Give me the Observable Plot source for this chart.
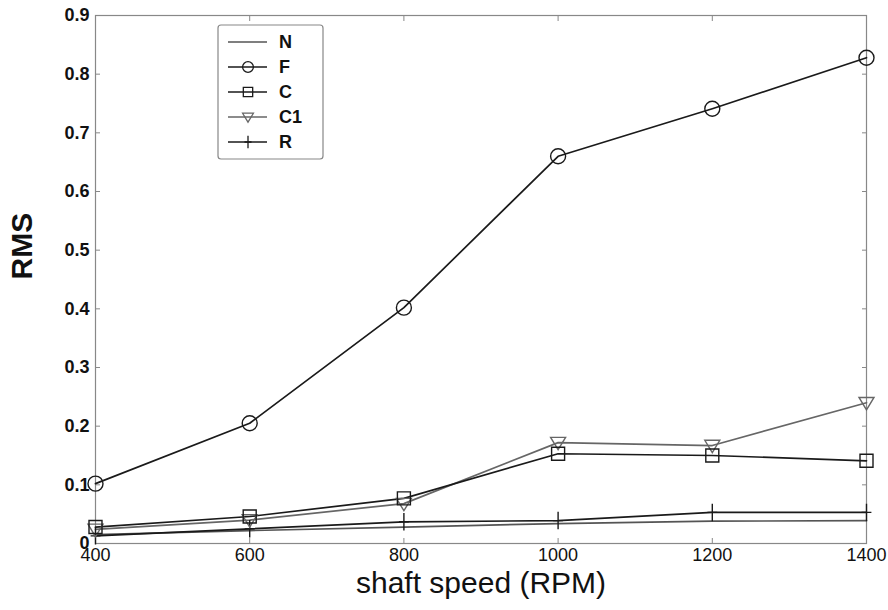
<!DOCTYPE html>
<html><head><meta charset="utf-8">
<script src="https://cdn.jsdelivr.net/npm/d3@7"></script>
<script src="https://cdn.jsdelivr.net/npm/@observablehq/plot@0.6"></script>
<style>
body{margin:0;background:#fff;font-family:"Liberation Sans",Arial,sans-serif;}
#wrap{position:relative;width:888px;height:610px;}
#legend{position:absolute;left:0;top:0;pointer-events:none;}
</style></head><body><div id="wrap"></div>
<script>
// ---- data ----
const speeds = [400, 600, 800, 1000, 1200, 1400];
const seriesNames = ["N", "F", "C", "C1", "R"];
const N  = [0.015, 0.022, 0.028, 0.034, 0.038, 0.039];
const F  = [0.102, 0.205, 0.402, 0.660, 0.741, 0.828];
const C  = [0.028, 0.046, 0.077, 0.153, 0.150, 0.141];
const C1 = [0.024, 0.040, 0.068, 0.172, 0.167, 0.240];
const R  = [0.013, 0.025, 0.037, 0.039, 0.053, 0.053];
const xTicks = [400, 600, 800, 1000, 1200, 1400];
const yTicks = [0, 0.1, 0.2, 0.3, 0.4, 0.5, 0.6, 0.7, 0.8, 0.9];
const yTickLabels = ["0", "0.1", "0.2", "0.3", "0.4", "0.5", "0.6", "0.7", "0.8", "0.9"];
const xLabel = "shaft speed (RPM)";
const yLabel = "RMS";

const values = {N, F, C, C1, R};
const rows = seriesNames.flatMap(s => speeds.map((x, j) => ({series: s, speed: x, rms: values[s][j]})));

// ---- symbols ----
const symCircle = {draw(c, size){ const r = Math.sqrt(size/Math.PI); c.moveTo(r,0); c.arc(0,0,r,0,2*Math.PI); }};
const symSquare = {draw(c, size){ const r = Math.sqrt(size/Math.PI); c.rect(-r,-r,2*r,2*r); }};
const symTriDown = {draw(c, size){ const r = Math.sqrt(size/Math.PI); c.moveTo(-r,-r*0.7); c.lineTo(r,-r*0.7); c.lineTo(0,r*0.95); c.closePath(); }};
const symPlus = {draw(c, size){ const r = Math.sqrt(size/Math.PI); c.moveTo(0,-r*1.25); c.lineTo(0,r*1.25); c.moveTo(-r*0.7,0); c.lineTo(r*0.7,0); }};

const style = {
  N:  {color: "#555", sym: null, r: 7},
  F:  {color: "#1a1a1a", sym: symCircle, r: 7.5},
  C:  {color: "#1a1a1a", sym: symSquare, r: 6.5},
  C1: {color: "#666", sym: symTriDown, r: 7.5},
  R:  {color: "#1a1a1a", sym: symPlus, r: 7}
};
const drawOrder = ["N", "R", "C1", "C", "F"];

const marks = [];
for (const s of drawOrder) {
  const d = rows.filter(r => r.series === s);
  marks.push(Plot.line(d, {x: "speed", y: "rms", stroke: style[s].color, strokeWidth: 1.7}));
}
for (const s of drawOrder) {
  if (!style[s].sym) continue;
  const d = rows.filter(r => r.series === s);
  marks.push(Plot.dot(d, {x: "speed", y: "rms", symbol: style[s].sym, r: style[s].r, stroke: style[s].color, fill: "none", strokeWidth: 1.4}));
}

const plot = Plot.plot({
  width: 888, height: 610,
  marginLeft: 95, marginRight: 22, marginTop: 15, marginBottom: 67,
  style: {fontFamily: '"Liberation Sans", Arial, sans-serif', background: "#fff", color: "#111"},
  x: {domain: [400, 1400]},
  y: {domain: [0, 0.9]},
  marks: [
    Plot.frame({stroke: "#888", strokeWidth: 1.2}),
    Plot.axisX({ticks: xTicks, tickSize: -5, tickPadding: 10, stroke: "#888", label: null, tickFormat: d => String(d), fontSize: 18}),
    Plot.axisX({anchor: "top", ticks: xTicks, tickSize: -5, stroke: "#888", label: null, tickFormat: () => ""}),
    Plot.axisY({ticks: yTicks, tickSize: -5, tickPadding: 11, stroke: "#888", label: null, tickFormat: d => yTickLabels[yTicks.indexOf(d)] ?? "", fontSize: 18, fontWeight: "bold"}),
    Plot.axisY({anchor: "right", ticks: yTicks, tickSize: -5, stroke: "#888", label: null, tickFormat: () => ""}),
    ...marks,
    Plot.text([yLabel], {frameAnchor: "left", text: d => d, rotate: -90, dx: -73, fontSize: 30, fontWeight: "bold", fill: "#111"}),
    Plot.text([xLabel], {frameAnchor: "bottom", text: d => d, dy: 49, fontSize: 30, fill: "#111"})
  ]
});
const wrap = document.getElementById("wrap");
wrap.appendChild(plot);

// ---- legend overlay ----
const lg = d3.select(wrap).append("svg").attr("id", "legend").attr("width", 888).attr("height", 610);
lg.append("rect").attr("x", 218).attr("y", 25).attr("width", 105).attr("height", 134).attr("rx", 3)
  .attr("fill", "#fff").attr("stroke", "#888").attr("stroke-width", 1.2);
seriesNames.forEach((s, i) => {
  const y = 42 + i * 25;
  const g = lg.append("g");
  g.append("line").attr("x1", 228).attr("x2", 267).attr("y1", y).attr("y2", y).attr("stroke", style[s].color).attr("stroke-width", 1.6);
  if (style[s].sym) {
    const p = d3.path();
    const rr = style[s].r * 0.72;
    style[s].sym.draw(p, Math.PI * rr * rr);
    g.append("path").attr("d", p.toString()).attr("transform", `translate(248,${y})`)
      .attr("fill", "none").attr("stroke", style[s].color).attr("stroke-width", 1.3);
  }
  g.append("text").attr("x", 279).attr("y", y).attr("dy", "0.35em").attr("font-size", 18).attr("font-weight", "bold")
    .attr("fill", "#111").text(s);
});
</script></body></html>
